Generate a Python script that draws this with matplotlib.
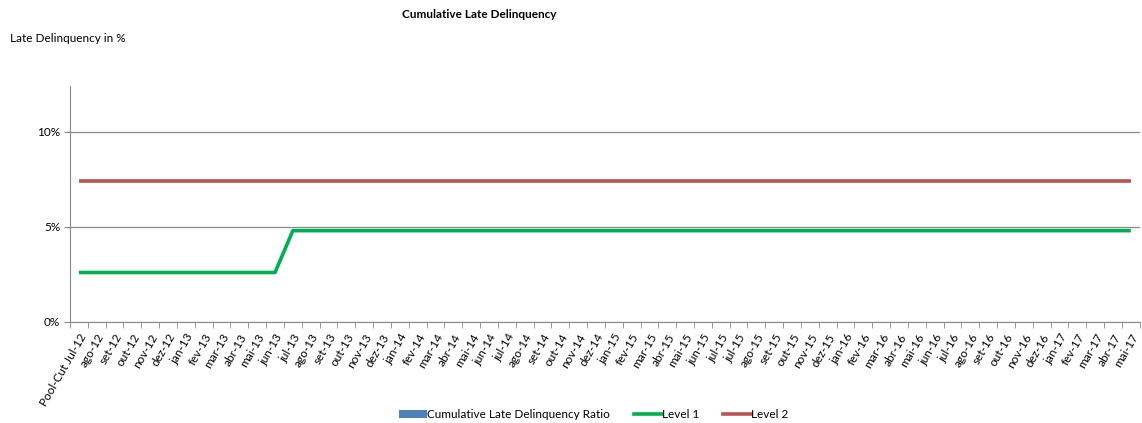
import matplotlib.pyplot as plt
from matplotlib.patches import Patch
from matplotlib.lines import Line2D
from matplotlib.ticker import FuncFormatter, MultipleLocator

plt.rcParams['font.family'] = ['Lato', 'DejaVu Sans']

months = ["Pool-Cut Jul-12", "ago-12", "set-12", "out-12", "nov-12", "dez-12",
          "jan-13", "fev-13", "mar-13", "abr-13", "mai-13", "jun-13", "jul-13",
          "ago-13", "set-13", "out-13", "nov-13", "dez-13",
          "jan-14", "fev-14", "mar-14", "abr-14", "mai-14", "jun-14", "jul-14",
          "ago-14", "set-14", "out-14", "nov-14", "dez-14",
          "jan-15", "fev-15", "mar-15", "abr-15", "mai-15", "jun-15", "jul-15",
          "jul-15", "ago-15", "set-15", "out-15", "nov-15", "dez-15",
          "jan-16", "fev-16", "mar-16", "abr-16", "mai-16", "jun-16", "jul-16",
          "ago-16", "set-16", "out-16", "nov-16", "dez-16",
          "jan-17", "fev-17", "mar-17", "abr-17", "mai-17"]

level1 = [0.026] * 12 + [0.048] * 48
level2 = [0.074] * 60

fig = plt.figure(figsize=(11.42, 4.23), dpi=100)
ax = fig.add_axes([0.0613, 0.2388, 0.9367, 0.5579])

x = list(range(len(months)))
ax.plot(x, level1, color="#00B050", lw=2.6, solid_capstyle="butt")
ax.plot(x, level2, color="#C0504D", lw=2.6, solid_capstyle="butt")

ax.set_xlim(-0.5, len(months) - 0.5)
ax.set_ylim(0, 0.124)
ax.yaxis.set_major_locator(MultipleLocator(0.05))
ax.yaxis.set_major_formatter(FuncFormatter(lambda v, p: f"{v*100:.0f}%"))
ax.grid(axis="y", color="#888888", lw=0.9)
ax.set_axisbelow(True)

ax.set_xticks(x)
ax.set_xticklabels(months, rotation=60, ha="right", rotation_mode="anchor", fontsize=8.5)
ax.set_xticks([i - 0.5 for i in range(len(months) + 1)], minor=True)
ax.tick_params(axis="x", which="major", length=0, pad=7)
ax.tick_params(axis="x", which="minor", length=4, color="#888888")
ax.tick_params(axis="y", length=4, color="#888888", labelsize=8.5, pad=3)

for s in ["top", "right"]:
    ax.spines[s].set_visible(False)
for s in ["left", "bottom"]:
    ax.spines[s].set_color("#888888")

fig.text(0.42, 0.965, "Cumulative Late Delinquency", ha="center", va="center",
         fontsize=8.5, fontweight="bold")
fig.text(0.009, 0.91, "Late Delinquency in %", ha="left", va="center", fontsize=8.5)

handles = [Patch(facecolor="#4F81BD", label="Cumulative Late Delinquency Ratio"),
           Line2D([], [], color="#00B050", lw=2.6, label="Level 1"),
           Line2D([], [], color="#C0504D", lw=2.6, label="Level 2")]
fig.legend(handles=handles, loc="center", bbox_to_anchor=(0.52, 0.02), ncol=3,
           frameon=False, fontsize=8.5, handlelength=2.4, handletextpad=0.0,
           columnspacing=2.0)

fig.savefig("out.png", dpi=100)
